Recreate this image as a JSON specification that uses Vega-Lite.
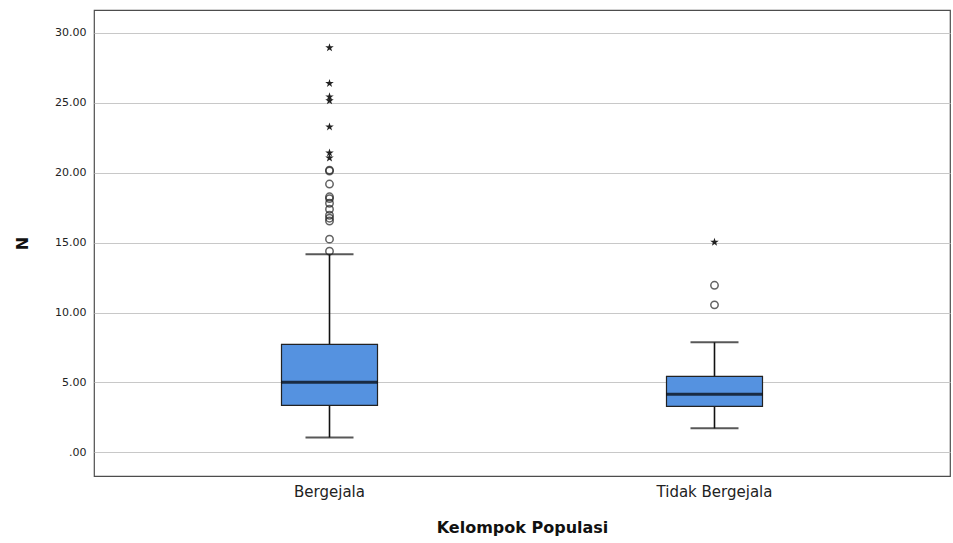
{
  "$schema": "https://vega.github.io/schema/vega-lite/v6.json",
  "autosize": {"type": "none"},
  "width": 856,
  "height": 466,
  "padding": {"left": 94, "top": 10, "right": 3, "bottom": 67},
  "background": "white",
  "config": {
    "font": "DejaVu Sans",
    "view": {"stroke": "#4d4d4d", "strokeWidth": 1.2}
  },
  "datasets": {
    "stats": [
      {"group": "Bergejala", "lower": 1.07, "q1": 3.36, "median": 5.01, "q3": 7.73, "upper": 14.17},
      {"group": "Tidak Bergejala", "lower": 1.72, "q1": 3.29, "median": 4.15, "q3": 5.44, "upper": 7.87}
    ],
    "outliers": [
      {"group": "Bergejala", "value": 28.94, "type": "extreme"},
      {"group": "Bergejala", "value": 26.39, "type": "extreme"},
      {"group": "Bergejala", "value": 25.43, "type": "extreme"},
      {"group": "Bergejala", "value": 25.15, "type": "extreme"},
      {"group": "Bergejala", "value": 23.28, "type": "extreme"},
      {"group": "Bergejala", "value": 21.42, "type": "extreme"},
      {"group": "Bergejala", "value": 21.06, "type": "extreme"},
      {"group": "Bergejala", "value": 20.19, "type": "outlier"},
      {"group": "Bergejala", "value": 20.12, "type": "outlier"},
      {"group": "Bergejala", "value": 19.19, "type": "outlier"},
      {"group": "Bergejala", "value": 18.28, "type": "outlier"},
      {"group": "Bergejala", "value": 18.15, "type": "outlier"},
      {"group": "Bergejala", "value": 17.82, "type": "outlier"},
      {"group": "Bergejala", "value": 17.39, "type": "outlier"},
      {"group": "Bergejala", "value": 16.96, "type": "outlier"},
      {"group": "Bergejala", "value": 16.75, "type": "outlier"},
      {"group": "Bergejala", "value": 16.55, "type": "outlier"},
      {"group": "Bergejala", "value": 15.25, "type": "outlier"},
      {"group": "Bergejala", "value": 14.39, "type": "outlier"},
      {"group": "Tidak Bergejala", "value": 15.03, "type": "extreme"},
      {"group": "Tidak Bergejala", "value": 11.95, "type": "outlier"},
      {"group": "Tidak Bergejala", "value": 10.55, "type": "outlier"}
    ]
  },
  "encoding": {
    "x": {
      "field": "group",
      "type": "nominal",
      "scale": {"type": "band", "paddingInner": 0, "paddingOuter": 0.1117, "domain": ["Bergejala", "Tidak Bergejala"]},
      "axis": {
        "title": "Kelompok Populasi",
        "titleFontSize": 16,
        "titleFontWeight": "bold",
        "titleColor": "#111",
        "titlePadding": 20,
        "labelFontSize": 15,
        "labelColor": "#222",
        "labelAngle": 0,
        "labelPadding": 8,
        "ticks": false,
        "domain": false
      }
    }
  },
  "layer": [
    {
      "data": {"name": "stats"},
      "mark": {"type": "rule", "color": "#111", "strokeWidth": 1.6},
      "encoding": {
        "y": {
          "field": "lower",
          "type": "quantitative",
          "scale": {"domain": [-1.69, 31.64], "nice": false, "zero": false},
          "axis": {
            "title": "N",
            "titleFontSize": 16,
            "titleFontWeight": "bold",
            "titleColor": "#111",
            "titlePadding": 24,
            "values": [0, 5, 10, 15, 20, 25, 30],
            "labelExpr": "datum.value == 0 ? '.00' : format(datum.value, '.2f')",
            "labelFontSize": 11,
            "labelColor": "#222",
            "labelPadding": 8,
            "ticks": false,
            "domain": false,
            "grid": true,
            "gridColor": "#c8c8c8",
            "gridWidth": 1.2
          }
        },
        "y2": {"field": "upper"}
      }
    },
    {
      "data": {"name": "stats"},
      "mark": {"type": "tick", "color": "#111", "size": 48, "thickness": 2},
      "encoding": {"y": {"field": "lower", "type": "quantitative"}}
    },
    {
      "data": {"name": "stats"},
      "mark": {"type": "tick", "color": "#111", "size": 48, "thickness": 2},
      "encoding": {"y": {"field": "upper", "type": "quantitative"}}
    },
    {
      "data": {"name": "stats"},
      "mark": {"type": "bar", "size": 96, "color": "#5592E0", "stroke": "#222", "strokeWidth": 1.2},
      "encoding": {
        "y": {"field": "q1", "type": "quantitative"},
        "y2": {"field": "q3"}
      }
    },
    {
      "data": {"name": "stats"},
      "mark": {"type": "tick", "color": "#000", "size": 96, "thickness": 3},
      "encoding": {"y": {"field": "median", "type": "quantitative"}}
    },
    {
      "data": {"name": "outliers"},
      "transform": [{"filter": "datum.type == 'outlier'"}],
      "mark": {"type": "point", "shape": "circle", "filled": false, "size": 55, "stroke": "#222", "strokeWidth": 1.5},
      "encoding": {"y": {"field": "value", "type": "quantitative"}}
    },
    {
      "data": {"name": "outliers"},
      "transform": [{"filter": "datum.type == 'extreme'"}],
      "mark": {"type": "point", "shape": "M0,-1L0.2245,-0.309L0.951,-0.309L0.363,0.118L0.588,0.809L0,0.382L-0.588,0.809L-0.363,0.118L-0.951,-0.309L-0.2245,-0.309Z", "filled": true, "size": 80, "color": "#222", "opacity": 1},
      "encoding": {"y": {"field": "value", "type": "quantitative"}}
    }
  ]
}
